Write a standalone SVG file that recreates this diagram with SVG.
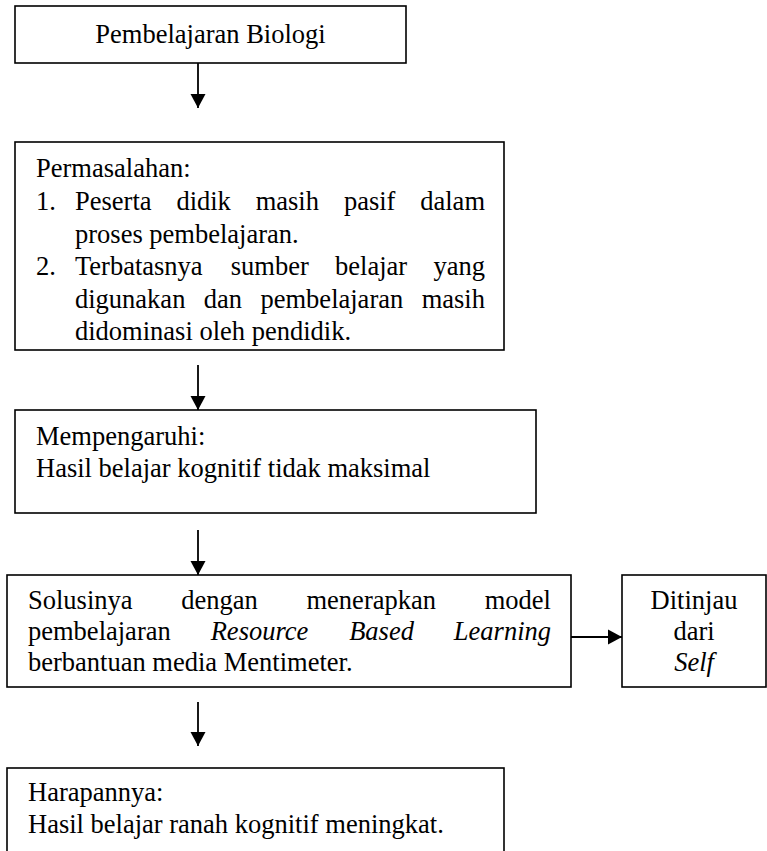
<svg xmlns="http://www.w3.org/2000/svg" width="767" height="851" viewBox="0 0 767 851">
<style>
.box{fill:#fff;stroke:#000;stroke-width:1.6}
.t{font-family:"Liberation Serif","Times New Roman",serif;font-size:26.5px;fill:#000}
.i{font-style:italic}
.c{text-anchor:middle}
.e{text-anchor:end}
.con{stroke:#000;stroke-width:1.8;fill:none}
</style>
<defs>
<marker id="ah" markerUnits="userSpaceOnUse" markerWidth="15" markerHeight="16" refX="14" refY="8" orient="auto">
<path d="M0,0.5 L14,8 L0,15.5 z" fill="#000"/>
</marker>
</defs>
<rect width="767" height="851" fill="#fff"/>
<g id="connectors">
<line class="con" x1="198" y1="63" x2="198" y2="108" marker-end="url(#ah)"/>
<line class="con" x1="198" y1="365" x2="198" y2="410" marker-end="url(#ah)"/>
<line class="con" x1="198" y1="530" x2="198" y2="575" marker-end="url(#ah)"/>
<line class="con" x1="198" y1="702" x2="198" y2="746" marker-end="url(#ah)"/>
<line class="con" x1="571" y1="637" x2="622" y2="637" marker-end="url(#ah)"/>
</g>
<g id="node-biologi">
<rect class="box" x="15" y="6" width="391" height="57"/>
<text class="t c" x="210.5" y="43">Pembelajaran Biologi</text>
</g>
<g id="node-permasalahan">
<rect class="box" x="15" y="142" width="489" height="208"/>
<text class="t" x="36" y="177">Permasalahan:</text>
<text class="t" x="36" y="210">1.</text>
<text class="t" x="75" y="210">Peserta</text>
<text class="t" x="176.4" y="210">didik</text>
<text class="t" x="255.7" y="210">masih</text>
<text class="t" x="343.9" y="210">pasif</text>
<text class="t e" x="485" y="210">dalam</text>
<text class="t" x="75" y="243">proses pembelajaran.</text>
<text class="t" x="36" y="275">2.</text>
<text class="t" x="75" y="275">Terbatasnya</text>
<text class="t" x="230.8" y="275">sumber</text>
<text class="t" x="335.1" y="275">belajar</text>
<text class="t e" x="485" y="275">yang</text>
<text class="t" x="75" y="308">digunakan</text>
<text class="t" x="203.8" y="308">dan</text>
<text class="t" x="260.5" y="308">pembelajaran</text>
<text class="t e" x="485" y="308">masih</text>
<text class="t" x="75" y="340">didominasi oleh pendidik.</text>
</g>
<g id="node-mempengaruhi">
<rect class="box" x="15" y="410" width="521" height="103"/>
<text class="t" x="36" y="445">Mempengaruhi:</text>
<text class="t" x="36" y="477">Hasil belajar kognitif tidak maksimal</text>
</g>
<g id="node-solusi">
<rect class="box" x="7" y="575" width="564" height="112"/>
<text class="t" x="28" y="609">Solusinya</text>
<text class="t" x="181.3" y="609">dengan</text>
<text class="t" x="306.5" y="609">menerapkan</text>
<text class="t e" x="551" y="609">model</text>
<text class="t" x="28" y="640">pembelajaran</text>
<text class="t i" x="210.7" y="640">Resource</text>
<text class="t i" x="349.2" y="640">Based</text>
<text class="t i e" x="551" y="640">Learning</text>
<text class="t" x="28" y="671">berbantuan media Mentimeter.</text>
</g>
<g id="node-ditinjau">
<rect class="box" x="622" y="575" width="144" height="112"/>
<text class="t c" x="694" y="609">Ditinjau</text>
<text class="t c" x="694" y="640">dari</text>
<text class="t c i" x="694" y="671">Self</text>
</g>
<g id="node-harapan">
<rect class="box" x="7" y="768" width="497" height="120"/>
<text class="t" x="28" y="801">Harapannya:</text>
<text class="t" x="28" y="833">Hasil belajar ranah kognitif meningkat.</text>
</g>
</svg>
